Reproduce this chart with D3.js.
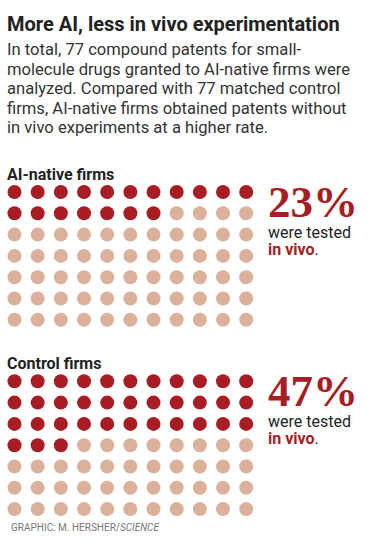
<!DOCTYPE html>
<head>
    <meta charset="utf-8">
    <script src="https://d3js.org/d3.v7.min.js"></script>
    <style>
      body { margin: 0; background: #fff; }
      text { font-family: Roboto, "Noto Sans", sans-serif; }
    </style>
</head>

<body>
    <div id="waffle"></div>
</body>

<script>

  // data
  const title = "More AI, less in vivo experimentation";
  const intro = [
    "In total, 77 compound patents for small-",
    "molecule drugs granted to AI-native firms were",
    "analyzed. Compared with 77 matched control",
    "firms, AI-native firms obtained patents without",
    "in vivo experiments at a higher rate."
  ];
  const groups = ["AI-native firms", "Control firms"];
  const tested = [18, 36];
  const totals = [77, 77];
  const pctLabels = ["23%", "47%"];
  const nCols = 11, nRows = 7;

  const width = 375, height = 550;
  const red = "#a81c24", tan = "#dbb19b", ink = "#222";

  const svg = d3.select("#waffle")
    .append("svg")
    .attr("width", width)
    .attr("height", height);

  // Title + intro
  svg.append("text")
    .attr("x", 7).attr("y", 31)
    .style("font-size", "20px").style("font-weight", 700)
    .attr("fill", ink)
    .text(title);

  svg.append("g").selectAll("text")
    .data(intro)
    .join("text")
    .attr("x", 7)
    .attr("y", (d, i) => 55 + i * 19.6)
    .style("font-size", "16.6px")
    .attr("fill", "#333")
    .text(d => d);

  // scales for the dot grid
  const x = d3.scalePoint().domain(d3.range(nCols)).range([14.5, 246.2]);
  const y = d3.scalePoint().domain(d3.range(nRows)).range([0, 127.8]);
  const panelTop = [192, 381.3];

  const panel = svg.selectAll("g.panel")
    .data(groups)
    .join("g")
    .attr("class", "panel")
    .attr("transform", (d, i) => `translate(0, ${panelTop[i]})`);

  // group label
  panel.append("text")
    .attr("x", 7).attr("y", -12.5)
    .style("font-size", "16px").style("font-weight", 700)
    .attr("fill", ink)
    .text(d => d);

  // dots
  panel.selectAll("circle")
    .data((d, i) => d3.range(totals[i]).map(k => ({k: k, on: k < tested[i]})))
    .join("circle")
    .attr("cx", d => x(d.k % nCols))
    .attr("cy", d => y(Math.floor(d.k / nCols)))
    .attr("r", 7)
    .attr("fill", d => d.on ? red : tan);

  // big percentage
  panel.append("text")
    .attr("x", 268).attr("y", 25)
    .style("font-family", "'Liberation Serif', 'DejaVu Serif', serif")
    .style("font-size", "45px").style("font-weight", 700)
    .attr("fill", red)
    .text((d, i) => pctLabels[i]);

  panel.append("text")
    .attr("x", 268).attr("y", 45.5)
    .style("font-size", "16px")
    .attr("fill", ink)
    .text("were tested");

  const vivo = panel.append("text")
    .attr("x", 268).attr("y", 63)
    .style("font-size", "16px");
  vivo.append("tspan").style("font-weight", 700).attr("fill", red).text("in vivo");
  vivo.append("tspan").attr("fill", ink).text(".");

  // credit
  const credit = svg.append("text")
    .attr("x", 11).attr("y", 530.5)
    .style("font-size", "10px")
    .attr("fill", "#777");
  credit.append("tspan").text("GRAPHIC: M. HERSHER/");
  credit.append("tspan").style("font-style", "italic").text("SCIENCE");

</script>
